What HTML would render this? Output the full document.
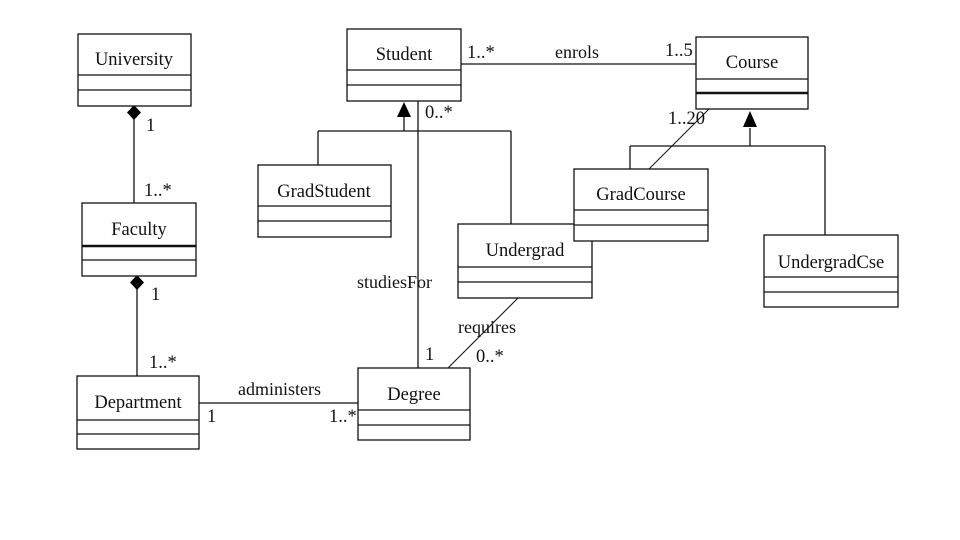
<!DOCTYPE html>
<html><head><meta charset="utf-8"><style>
html,body{margin:0;padding:0;background:#fff;width:960px;height:540px;overflow:hidden}
svg text{font-family:"Liberation Serif",serif;font-size:18.5px;fill:#111}
</style></head><body>
<svg width="960" height="540" viewBox="0 0 960 540" xmlns="http://www.w3.org/2000/svg">
<g stroke="#111" stroke-width="1.3" fill="none">
<line x1="134" y1="118" x2="134" y2="203"/>
<line x1="137" y1="288" x2="137" y2="376"/>
<line x1="199" y1="403" x2="358" y2="403"/>
<line x1="461" y1="64" x2="696" y2="64"/>
<line x1="404" y1="116" x2="404" y2="131"/>
<line x1="318" y1="131" x2="511" y2="131"/>
<line x1="318" y1="131" x2="318" y2="165"/>
<line x1="511" y1="131" x2="511" y2="224"/>
<line x1="418" y1="101" x2="418" y2="368"/>
<line x1="750" y1="128" x2="750" y2="146"/>
<line x1="630" y1="146" x2="825" y2="146"/>
<line x1="630" y1="146" x2="630" y2="169"/>
<line x1="825" y1="146" x2="825" y2="235"/>
<line x1="709" y1="109" x2="649" y2="169" stroke-width="1"/>
<line x1="518" y1="298" x2="448" y2="368" stroke-width="1"/>
</g>
<g fill="#000">
<polygon points="134,105 141,112.5 134,120 127,112.5"/>
<polygon points="137,275 144,282.5 137,290 130,282.5"/>
<polygon points="404,102 411,117 397,117"/>
<polygon points="750,111 757,127 743,127"/>
</g>
<g stroke="#111" stroke-width="1.3" fill="#fff">
<rect x="78" y="34" width="113" height="72"/>
<line x1="78" y1="75" x2="191" y2="75"/><line x1="78" y1="90" x2="191" y2="90"/>
<rect x="82" y="203" width="114" height="73"/>
<line x1="82" y1="246" x2="196" y2="246" stroke-width="2.5"/><line x1="82" y1="260" x2="196" y2="260"/>
<rect x="77" y="376" width="122" height="73"/>
<line x1="77" y1="420" x2="199" y2="420"/><line x1="77" y1="434" x2="199" y2="434"/>
<rect x="347" y="29" width="114" height="72"/>
<line x1="347" y1="70" x2="461" y2="70"/><line x1="347" y1="85" x2="461" y2="85"/>
<rect x="696" y="37" width="112" height="72"/>
<line x1="696" y1="79" x2="808" y2="79"/><line x1="696" y1="93" x2="808" y2="93" stroke-width="2.5"/>
<rect x="258" y="165" width="133" height="72"/>
<line x1="258" y1="206" x2="391" y2="206"/><line x1="258" y1="221" x2="391" y2="221"/>
<rect x="458" y="224" width="134" height="74"/>
<line x1="458" y1="267" x2="592" y2="267"/><line x1="458" y1="282" x2="592" y2="282"/>
<rect x="574" y="169" width="134" height="72"/>
<line x1="574" y1="210" x2="708" y2="210"/><line x1="574" y1="225" x2="708" y2="225"/>
<rect x="764" y="235" width="134" height="72"/>
<line x1="764" y1="277" x2="898" y2="277"/><line x1="764" y1="292" x2="898" y2="292"/>
<rect x="358" y="368" width="112" height="72"/>
<line x1="358" y1="410" x2="470" y2="410"/><line x1="358" y1="425" x2="470" y2="425"/>
</g>
<g text-anchor="middle">
<text x="134" y="65">University</text>
<text x="139" y="235">Faculty</text>
<text x="138" y="408">Department</text>
<text x="404" y="60">Student</text>
<text x="752" y="68">Course</text>
<text x="324" y="197">GradStudent</text>
<text x="525" y="256">Undergrad</text>
<text x="641" y="200">GradCourse</text>
<text x="831" y="268">UndergradCse</text>
<text x="414" y="400">Degree</text>
</g>
<g style="font-size:16px">
<text x="146" y="131">1</text>
<text x="144" y="196">1..*</text>
<text x="151" y="300">1</text>
<text x="149" y="368">1..*</text>
<text x="238" y="395" style="font-size:18px">administers</text>
<text x="207" y="422">1</text>
<text x="329" y="422">1..*</text>
<text x="467" y="58">1..*</text>
<text x="555" y="58" style="font-size:18px">enrols</text>
<text x="665" y="56">1..5</text>
<text x="425" y="118">0..*</text>
<text x="668" y="124">1..20</text>
<text x="357" y="288" style="font-size:18px">studiesFor</text>
<text x="425" y="360">1</text>
<text x="458" y="333" style="font-size:18px">requires</text>
<text x="476" y="362">0..*</text>
</g>
</svg>
</body></html>
